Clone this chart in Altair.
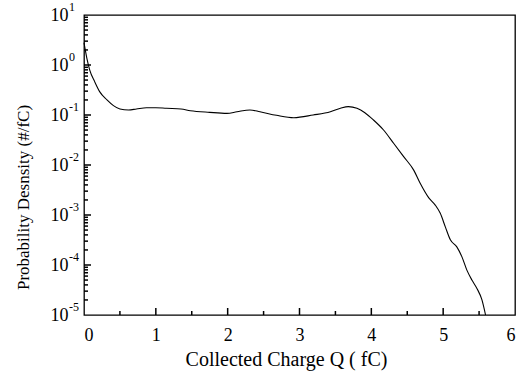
import altair as alt
import pandas as pd

# Collected charge Q (fC) and probability density (#/fC)
q_vals = [0.0, 0.04, 0.08, 0.15, 0.22, 0.32, 0.41, 0.50, 0.62, 0.73, 0.87, 1.0, 1.15, 1.35,
          1.48, 1.75, 1.99, 2.13, 2.31, 2.45, 2.68, 2.92, 3.19, 3.43, 3.57, 3.68, 3.80, 3.91,
          4.03, 4.17, 4.31, 4.45, 4.59, 4.68, 4.80, 4.89, 4.96, 5.03, 5.10, 5.19, 5.26, 5.33,
          5.40, 5.47, 5.54, 5.59]
p_vals = [2.8, 1.36, 0.79, 0.46, 0.29, 0.20, 0.154, 0.132, 0.126, 0.132, 0.14, 0.14, 0.136, 0.132,
          0.122, 0.113, 0.108, 0.116, 0.126, 0.116, 0.0986, 0.0883, 0.10, 0.116, 0.136, 0.147, 0.136, 0.111,
          0.0794, 0.0501, 0.0272, 0.0147, 0.0079, 0.0043, 0.0022, 0.00158, 0.00108, 0.00058, 0.00032, 0.00023, 0.000147, 7.9e-5,
          5.0e-5, 3.4e-5, 2.0e-5, 1.0e-5]

x_ticks = [0, 1, 2, 3, 4, 5, 6]
x_minor = [0.5, 1.5, 2.5, 3.5, 4.5, 5.5]
y_ticks = [1e-5, 1e-4, 1e-3, 1e-2, 1e-1, 1e0, 1e1]
y_exps = ["-5", "-4", "-3", "-2", "-1", "0", "1"]
y_minor = [m * 10.0 ** k for k in range(-5, 1) for m in range(2, 10)]

FONT = "Liberation Serif"

# tick lengths (style): major ~7 px, minor ~4 px
X_MAJ_LEN, X_MIN_LEN = 7 / 71.8, 4 / 71.8              # in Q units
Y_MAJ_FAC, Y_MIN_FAC = 10 ** (7 / 50), 10 ** (4 / 50)  # multiplicative on log y

df = pd.DataFrame({"Q": q_vals, "P": p_vals})
xscale = alt.Scale(domain=[0, 6], nice=False, zero=False)
yscale = alt.Scale(type="log", domain=[1e-5, 10], nice=False)

# one table of inner tick segments
rows = []
for v in y_ticks[1:-1]:
    rows.append({"Q": 0.0, "Q2": X_MAJ_LEN, "P": v, "P2": v})
for v in y_minor:
    rows.append({"Q": 0.0, "Q2": X_MIN_LEN, "P": v, "P2": v})
for q in x_ticks[1:-1]:
    rows.append({"Q": q, "Q2": q, "P": 1e-5, "P2": 1e-5 * Y_MAJ_FAC})
for q in x_minor:
    rows.append({"Q": q, "Q2": q, "P": 1e-5, "P2": 1e-5 * Y_MIN_FAC})
ticks_df = pd.DataFrame(rows)

xaxis = alt.Axis(values=x_ticks, title="Collected Charge Q ( fC)", format="d",
                 domain=False, ticks=False, grid=False, labelPadding=11,
                 labelFontSize=18, titleFontSize=20, titleFontWeight="normal",
                 titlePadding=5, titleX=202, labelFont=FONT, titleFont=FONT,
                 labelColor="black", titleColor="black")
yaxis = alt.Axis(values=y_ticks, labelExpr="'10'",
                 title="Probability Desnsity (#/fC)",
                 domain=False, ticks=False, grid=False, labelPadding=16,
                 labelFontSize=18, titleFontSize=17, titleFontWeight="normal",
                 titlePadding=18, titleY=182, labelFont=FONT, titleFont=FONT,
                 labelColor="black", titleColor="black")

line = alt.Chart(df).mark_line(color="black", strokeWidth=1.1, interpolate="monotone").encode(
    x=alt.X("Q:Q", scale=xscale, axis=xaxis),
    y=alt.Y("P:Q", scale=yscale, axis=yaxis),
)

tick_marks = alt.Chart(ticks_df).mark_rule(color="black", strokeWidth=1.5).encode(
    x=alt.X("Q:Q", scale=xscale, axis=xaxis),
    x2=alt.X2("Q2"),
    y=alt.Y("P:Q", scale=yscale, axis=yaxis),
    y2=alt.Y2("P2"),
)

ydf = pd.DataFrame({"v": y_ticks, "e": y_exps})
exps = alt.Chart(ydf).mark_text(align="left", baseline="middle", dx=-15, dy=-8,
                                fontSize=12, font=FONT, color="black").encode(
    x=alt.datum(0), y=alt.Y("v:Q", scale=yscale), text="e:N")

chart = alt.layer(line, tick_marks, exps).properties(
    width=431, height=300,
    autosize=alt.AutoSizeParams(type="none"),
    padding={"left": 84, "top": 15, "right": 10, "bottom": 61},
    background="white",
).configure_view(stroke="black", strokeWidth=1.3)

chart.save("out.html", embed_options={"renderer": "svg", "actions": False})
